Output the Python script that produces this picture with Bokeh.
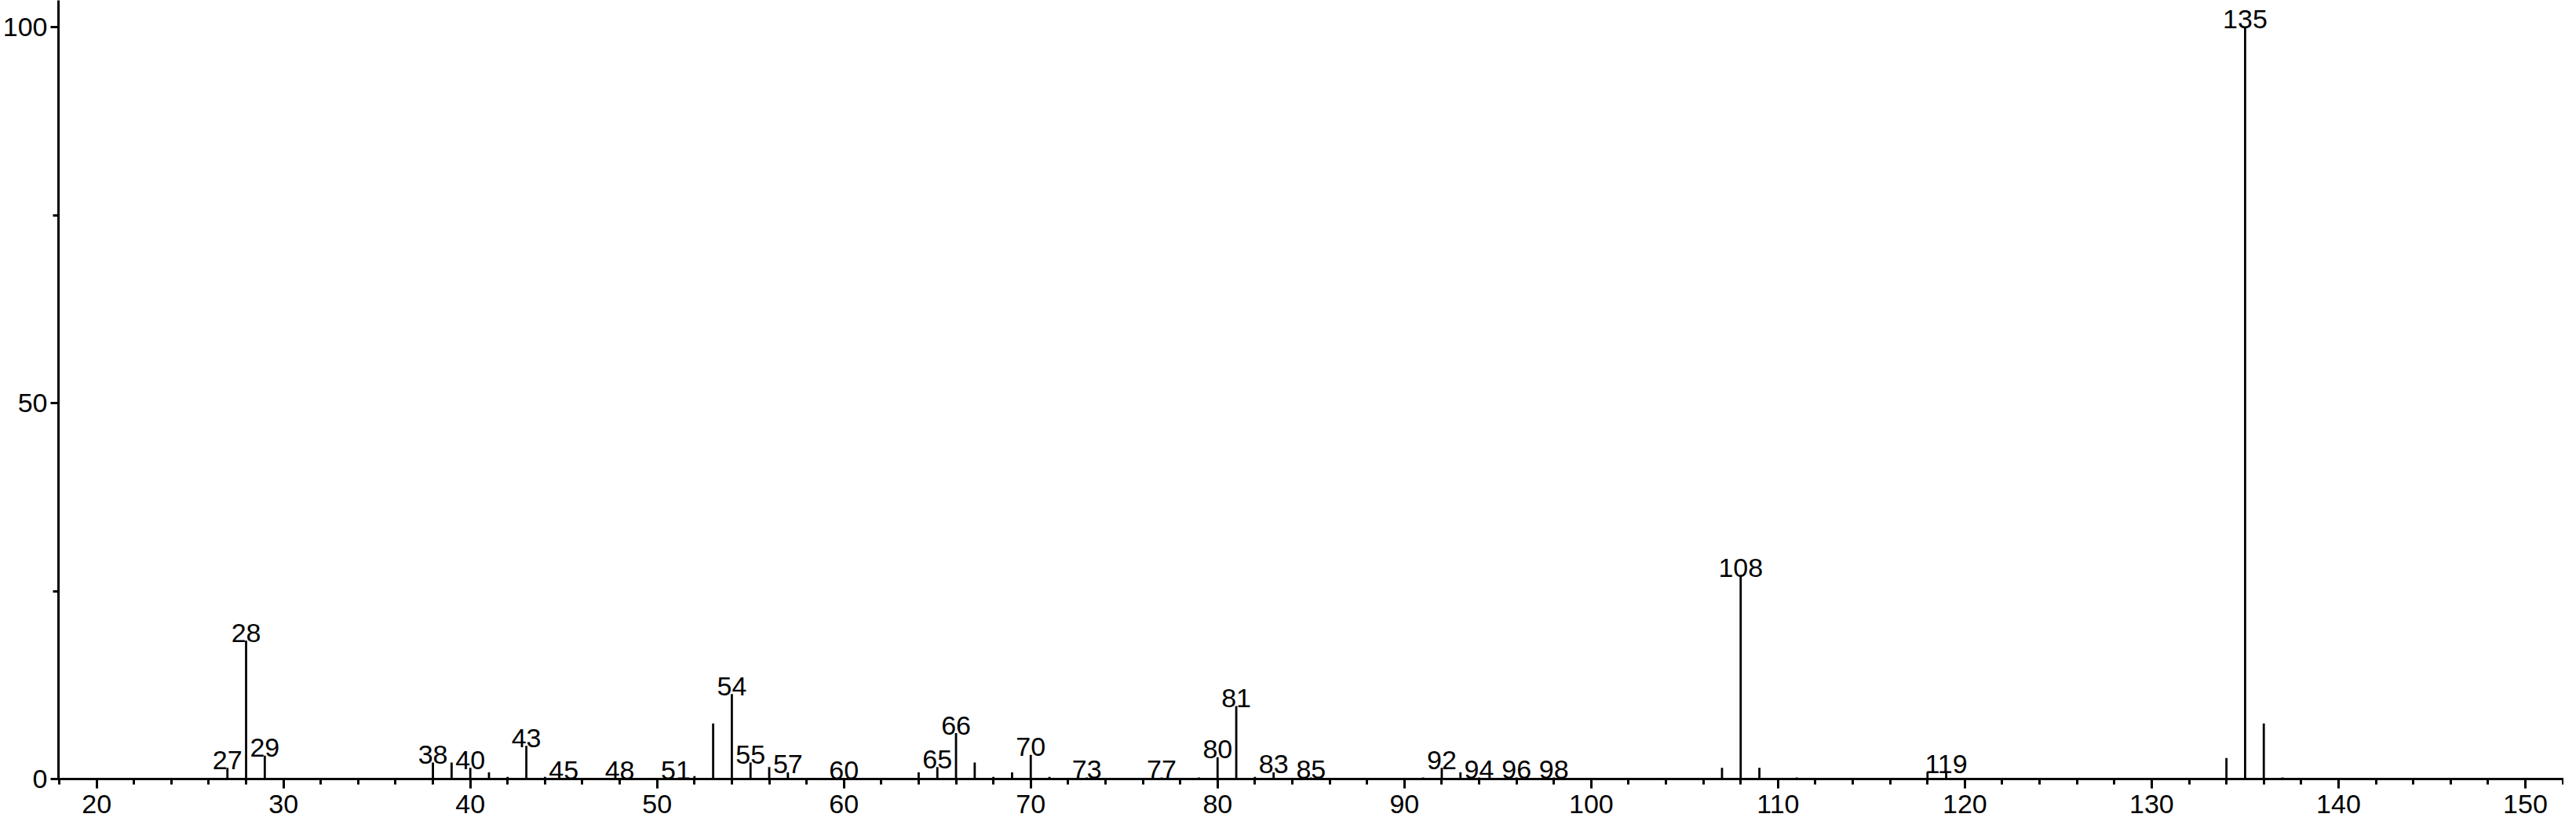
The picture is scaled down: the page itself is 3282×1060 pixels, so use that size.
from bokeh.plotting import figure
from bokeh.models import FixedTicker, Range1d, ColumnDataSource
from bokeh.embed import file_html
from bokeh.resources import INLINE
from bokeh.core.properties import value

# m/z values and relative intensities (%)
mz = [27, 28, 29, 38, 39, 40, 41, 42, 43, 44, 45, 48, 51, 52, 53, 54, 55, 56, 57, 60,
      64, 65, 66, 67, 68, 69, 70, 71, 73, 77, 79, 80, 81, 82, 83, 85, 91, 92, 93, 94,
      96, 97, 98, 107, 108, 109, 111, 118, 119, 134, 135, 136, 137]
intensity = [1.5, 18.4, 3.1, 2.2, 2.2, 1.5, 0.9, 0.3, 4.4, 0.3, 0.15, 0.15, 0.15, 0.4, 7.4, 11.3, 2.2, 1.6, 0.9, 0.15,
             0.9, 1.6, 6.1, 2.2, 0.3, 0.9, 3.2, 0.3, 0.2, 0.2, 0.2, 2.9, 9.7, 0.3, 0.9, 0.2, 0.2, 1.5, 0.9, 0.2,
             0.2, 0.15, 0.2, 1.5, 27.0, 1.5, 0.2, 0.9, 0.9, 2.8, 100.0, 7.4, 0.2]

# peaks that carry a m/z label
label_mz = [27, 28, 29, 38, 40, 43, 45, 48, 51, 54, 55, 57, 60, 65, 66, 70, 73, 77,
            80, 81, 83, 85, 92, 94, 96, 98, 108, 119, 135]

x_major_ticks = list(range(20, 151, 10))
x_minor_ticks = list(range(18, 153, 2))
y_major_ticks = [0, 50, 100]
y_minor_ticks = [25, 75]

FONT = "Liberation Sans"
FSIZE = "34px"

lookup = dict(zip(mz, intensity))
peaks = ColumnDataSource(dict(x=mz, y0=[0] * len(mz), y1=intensity))
labels = ColumnDataSource(dict(x=label_mz, y=[lookup[m] for m in label_mz],
                               t=[str(m) for m in label_mz]))

p = figure(width=3266, height=1050, output_backend="svg", toolbar_location=None,
           x_range=Range1d(17.957, 152.06), y_range=Range1d(0, 103.6),
           min_border_left=69, min_border_right=0, min_border_top=0, min_border_bottom=58)

p.segment(x0="x", y0="y0", x1="x", y1="y1", source=peaks, line_color="black", line_width=2.8)
p.text(x="x", y="y", text="t", source=labels, text_align="center", text_baseline="alphabetic",
       y_offset=-10, text_font=value(FONT), text_font_size=value(FSIZE), text_color="black")

p.xgrid.visible = False
p.ygrid.visible = False
p.outline_line_color = None
p.background_fill_color = "white"
p.border_fill_color = "white"

p.xaxis.ticker = FixedTicker(ticks=x_major_ticks, minor_ticks=x_minor_ticks)
p.yaxis.ticker = FixedTicker(ticks=y_major_ticks, minor_ticks=y_minor_ticks)

for ax in (p.xaxis, p.yaxis):
    ax.axis_line_width = 3
    ax.axis_line_color = "black"
    ax.major_tick_line_width = 3
    ax.minor_tick_line_width = 3
    ax.major_tick_line_color = "black"
    ax.minor_tick_line_color = "black"
    ax.major_tick_in = 0
    ax.minor_tick_in = 0
    ax.minor_tick_out = 7
    ax.major_label_text_font = FONT
    ax.major_label_text_font_size = FSIZE
    ax.major_label_text_color = "black"

p.xaxis.major_tick_out = 12
p.xaxis.major_label_standoff = 8
p.yaxis.major_tick_out = 10
p.yaxis.major_label_standoff = 4

open("out.html", "w").write(file_html(p, INLINE))
